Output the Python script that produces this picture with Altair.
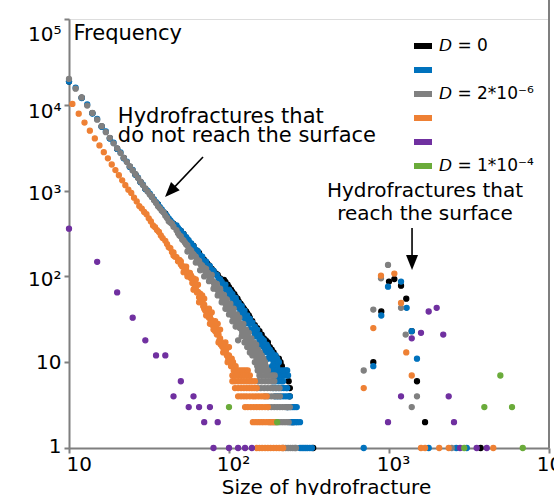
import altair as alt
import pandas as pd

# ---------------- data (size of hydrofracture, frequency) ----------------
series = ["D0", "blue", "D2e-6", "orange", "purple", "D1e-4"]
colors = ["#000000", "#0072BD", "#808080", "#EE8034", "#7030A0", "#6AAB3A"]

black_pts = [
    (10, 18700), (12, 12100), (14, 8000), (16, 5600), (18, 4080), (20, 3080), (22, 2400),
    (24, 1900), (26, 1540), (28, 1260), (30, 1050), (33, 850), (36, 690), (40, 540), (45, 410),
    (50, 338), (52, 312), (55, 270), (58, 240), (60, 226), (63, 200), (65, 188), (68, 168),
    (70, 156), (73, 142), (75, 134), (78, 122), (80, 116), (83, 108), (85, 104), (88, 95),
    (90, 90), (93, 91), (95, 86), (98, 80), (100, 75), (103, 70), (105, 66), (108, 62),
    (110, 58), (113, 55), (115, 51), (118, 48), (120, 46), (123, 43), (125, 41), (128, 39),
    (130, 37), (133, 35), (135, 33), (140, 30), (145, 27), (150, 25), (155, 23), (160, 21),
    (165, 19), (170, 18), (175, 17), (180, 15), (185, 14), (190, 13), (195, 12), (200, 11),
    (205, 11), (210, 10), (214, 9), (214, 8), (202, 7), (236, 6), (240, 5), (240, 4),
    (232, 3), (250, 2), (336, 1),
    (1000, 87), (1080, 93), (1189, 78), (1282, 55), (895, 39), (1387, 23), (798, 10),
    (1496, 6), (1680, 2), (3740, 1),
]

blue_pts = [
    (10, 18700), (11, 15800), (12, 12000), (13, 10100), (14, 7900), (15, 6850), (16, 5550),
    (17, 4900), (18, 4050), (19, 3620), (20, 3060), (21, 2780), (22, 2380), (23, 2180),
    (24, 1890), (25, 1745), (26, 1530), (27, 1420), (28, 1255), (29, 1172), (30, 1045),
    (31, 990), (32, 920), (33, 845), (34, 790), (35, 735), (36, 690), (37, 642), (38, 603),
    (39, 566), (40, 533), (41, 503), (42, 474), (43, 449), (44, 425), (45, 403),
    (47, 392), (48, 368), (49, 350), (50, 340), (51, 318), (52, 310), (53, 290), (54, 286),
    (55, 268), (56, 262), (57, 244), (58, 242), (59, 226), (60, 225), (62, 204), (64, 195),
    (66, 176), (68, 170), (70, 152), (72, 149), (74, 134), (76, 132), (78, 119), (80, 117),
    (82, 106), (84, 104), (86, 95), (88, 92), (90, 86), (92, 78), (94, 77), (96, 69),
    (98, 68), (100, 61), (103, 58), (106, 51), (109, 50), (112, 44), (115, 43), (118, 38),
    (121, 37), (124, 33), (127, 32), (130, 29), (134, 28), (138, 24), (142, 23), (146, 21),
    (150, 20), (155, 18), (160, 16), (165, 15), (170, 14), (175, 13), (180, 12), (185, 11),
    (190, 10), (95, 80), (102, 66), (111, 52), (120, 41), (133, 31), (145, 25), (158, 19),
    (172, 16), (183, 13), (195, 11),
    (100, 70), (105, 62), (110, 56), (115, 49), (120, 45), (125, 40), (130, 35), (135, 32),
    (140, 29), (145, 26), (150, 24), (155, 21), (160, 19), (165, 18), (170, 16), (175, 15),
    (180, 14), (185, 13), (190, 12), (195, 12), (200, 11), (205, 10),
    (105, 45), (115, 36), (125, 28), (135, 24), (145, 20), (155, 16), (165, 13), (175, 11),
    (186, 9), (194, 9), (200, 9),
    (178, 8), (186, 8), (194, 8), (202, 8), (210, 8), (218, 8), (226, 8), (231, 8),
    (194, 7), (202, 7), (210, 7), (218, 7), (226, 7), (234, 7),
    (188, 6), (196, 6), (204, 6), (212, 6), (218, 6),
    (188, 5), (196, 5), (204, 5), (212, 5), (220, 5), (228, 5), (231, 5),
    (194, 4), (202, 4), (210, 4), (218, 4), (226, 4), (234, 4), (240, 4),
    (229, 3), (236, 3), (244, 3), (251, 3), (258, 3), (265, 3),
    (240, 2), (247, 2), (254, 2), (261, 2), (268, 2), (278, 2),
    (278, 1), (286, 1), (294, 1), (302, 1), (310, 1), (320, 1), (330, 1),
    (1189, 87), (986, 76), (1289, 43), (895, 35), (1387, 23), (1496, 11), (798, 9),
    (695, 1), (1770, 1), (2634, 1), (3062, 1),
]

gray_pts = [
    (10, 20000), (11, 15400), (12, 12200), (13, 9800), (14, 8050), (15, 6700), (16, 5640),
    (17, 4800), (18, 4120), (19, 3560), (20, 3110), (21, 2740), (22, 2410), (23, 2150),
    (24, 1920), (25, 1720), (26, 1550), (27, 1400), (28, 1270), (29, 1160), (30, 1060),
    (31, 975), (32, 900), (33, 845), (34, 771), (35, 716), (36, 655), (37, 622), (38, 581),
    (39, 556), (40, 510), (41, 480), (42, 440), (43, 425), (44, 410), (45, 379),
    (47, 345), (48, 318), (49, 300), (50, 292), (51, 270), (52, 262), (53, 248), (54, 236),
    (55, 230), (56, 212), (57, 205), (58, 199), (59, 186), (60, 180), (61, 172), (62, 170),
    (63, 158), (64, 150), (65, 152), (66, 140), (67, 136), (68, 133), (69, 124), (70, 126),
    (71, 115), (72, 113), (73, 108), (74, 110), (75, 101), (76, 98), (77, 97), (78, 90),
    (79, 88), (80, 86), (81, 80), (82, 83), (83, 74), (84, 76), (85, 69), (86, 70), (87, 64),
    (88, 67), (89, 60), (90, 62), (91, 55), (92, 59), (93, 52), (94, 56), (95, 48), (96, 51),
    (97, 46), (98, 44), (99, 47), (100, 41), (102, 43), (103, 37), (104, 39), (105, 35),
    (106, 38), (107, 33), (108, 36), (110, 30), (111, 33), (112, 29), (113, 31), (115, 27),
    (116, 29), (117, 25), (118, 27), (120, 24), (121, 22), (122, 25), (124, 21), (125, 23),
    (127, 20), (128, 18), (130, 19), (131, 21), (133, 17), (134, 16), (136, 18), (137, 15),
    (139, 14), (140, 16), (142, 13), (144, 15), (145, 12), (147, 14), (149, 11), (150, 13),
    (152, 12), (154, 10), (155, 11), (157, 12), (159, 10), (163, 11), (165, 10),
    (55, 195), (58, 170), (62, 145), (66, 118), (70, 100), (72, 122), (75, 88), (78, 104),
    (80, 72), (84, 82), (85, 60), (88, 72), (90, 50), (93, 61), (95, 42), (97, 54),
    (100, 36), (102, 48), (105, 30), (107, 42), (110, 26), (112, 36), (114, 18), (116, 33),
    (120, 20), (123, 28), (125, 17), (128, 24), (130, 15), (133, 22), (135, 13), (138, 19),
    (140, 12), (143, 17), (145, 10), (148, 16), (152, 14), (156, 13), (160, 12), (164, 11),
    (168, 10),
    (150, 9), (157, 9), (163, 9), (170, 9),
    (151, 8), (158, 8), (164, 8), (170, 8), (175, 8),
    (155, 7), (163, 7), (171, 7), (178, 7), (186, 7), (193, 7),
    (152, 6), (160, 6), (168, 6), (176, 6), (184, 6), (192, 6),
    (150, 5), (158, 5), (166, 5), (174, 5), (182, 5), (190, 5), (198, 5), (207, 5),
    (168, 4), (176, 4), (184, 4), (192, 4), (200, 4), (208, 4),
    (176, 3), (184, 3), (192, 3), (200, 3), (208, 3), (216, 3), (224, 3), (232, 3), (240, 3),
    (180, 2), (188, 2), (196, 2), (204, 2), (212, 2), (220, 2), (228, 2), (236, 2),
    (218, 1), (226, 1), (234, 1), (242, 1), (250, 1), (258, 1), (262, 1),
    (986, 136), (891, 95), (1189, 43), (798, 41), (1271, 21), (695, 8), (1496, 4),
    (1387, 3), (2466, 1),
]

orange_pts = [
    (10.5, 10250), (11.5, 7890), (12.5, 6210), (13.5, 4990), (14.5, 4060), (15.5, 3360),
    (16.5, 2805), (17.5, 2375), (18.5, 2015), (19.5, 1735), (20.5, 1510), (21.5, 1318),
    (22.5, 1157), (23.5, 1025), (24.5, 940), (25.5, 826), (26.5, 747), (27.5, 660),
    (28.5, 618), (29.5, 564), (30.5, 530), (31.5, 475), (32.5, 437), (33.5, 392),
    (34.5, 374), (35.5, 347), (36.5, 330), (37.5, 300), (38.5, 280),
    (40, 260), (41, 238), (42, 218), (43, 214), (44, 192), (45, 190), (46, 170), (47, 168),
    (48, 150), (49, 156), (50, 138), (51, 130), (52, 131), (53, 118), (54, 119), (55, 106),
    (56, 108), (57, 98), (58, 95), (59, 84), (60, 85), (61, 74), (62, 73), (63, 65),
    (64, 66), (65, 57), (66, 58), (67, 51), (68, 52), (69, 45), (70, 47), (71, 40), (72, 42),
    (73, 36), (74, 38), (75, 33), (76, 34), (77, 30), (78, 31), (79, 27), (80, 28), (82, 23),
    (83, 25), (84, 21), (86, 21), (87, 18), (88, 19), (90, 17), (91, 15), (92, 16), (94, 14),
    (95, 13), (96, 14), (98, 12), (99, 11), (101, 11), (103, 10),
    (45, 175), (50, 150), (55, 100), (58, 102), (62, 80), (66, 63), (70, 42), (75, 36),
    (80, 24), (85, 23), (89, 16), (93, 16), (97, 12), (100, 12), (104, 11), (106, 10),
    (60, 70), (62, 92), (65, 50), (68, 60), (70, 55), (72, 35), (75, 42), (76, 28),
    (78, 38), (82, 30), (85, 28), (86, 17), (88, 24), (92, 13), (95, 17), (98, 10),
    (100, 15), (64, 80), (60, 95), (57, 110), (54, 130), (52, 112),
    (103, 9), (107, 9), (110, 9),
    (107, 8), (111, 8), (115, 8), (119, 8), (123, 8), (127, 8), (131, 8),
    (105, 7), (109, 7), (113, 7), (117, 7), (121, 7), (125, 7), (130, 7), (135, 7),
    (105, 6), (109, 6), (114, 6), (119, 6), (124, 6), (129, 6), (134, 6), (139, 6), (145, 6),
    (109, 5), (114, 5), (119, 5), (124, 5), (129, 5), (134, 5), (139, 5), (144, 5), (149, 5),
    (114, 4), (119, 4), (124, 4), (129, 4), (135, 4), (141, 4), (147, 4), (153, 4), (159, 4),
    (165, 4), (172, 4),
    (126, 3), (131, 3), (137, 3), (143, 3), (149, 3), (155, 3), (161, 3), (168, 3), (175, 3),
    (141, 2), (147, 2), (153, 2), (159, 2), (165, 2), (172, 2), (179, 2), (186, 2), (194, 2),
    (149, 1), (155, 1), (161, 1), (168, 1), (175, 1), (182, 1), (190, 1), (198, 1), (206, 1),
    (214, 1), (218, 1),
    (891, 102), (1080, 108), (1189, 49), (798, 25), (1282, 13), (1387, 7), (695, 5),
    (1585, 1), (1680, 1), (2060, 1), (2361, 1), (4487, 1),
]

purple_pts = [
    (10, 360), (15, 148), (20, 65), (25, 33), (30, 18), (35, 12), (40, 12), (50, 6),
    (45, 4), (60, 4), (56, 3), (65, 3), (76, 3), (70, 2), (85, 2), (80, 1), (100, 1),
    (114, 1), (126, 1), (139, 1),
    (1770, 39), (1986, 43), (1585, 22), (2183, 21), (1387, 19), (1189, 4), (2361, 4),
    (986, 2), (2548, 2), (2780, 1), (3532, 1), (4083, 1),
]

green_pts = [
    (100, 3), (200, 2), (3944, 3), (5873, 3), (4966, 7), (2953, 1), (6855, 1),
]

legend_labels = ["𝘋 = 0", "", "𝘋 = 2*10⁻⁶", "", "", "𝘋 = 1*10⁻⁴"]

# annotations (data coordinates)
note_text = ["Hydrofractures that", "do not reach the surface",
             "Hydrofractures that", "reach the surface"]
note_x = [20.2, 20.2, 1679, 1679]
note_y = [7300, 4300, 980, 540]

arrow_x = [68.8, 1393]
arrow_y = [2465, 367]
arrow_x2 = [42.9, 1393]
arrow_y2 = [973, 145]
arrow_angle = [43.5, 0]

# ---------------- build table ----------------
rows = []
for name, pts in zip(series, [black_pts, blue_pts, gray_pts, orange_pts, purple_pts, green_pts]):
    for s, f in pts:
        rows.append({"size": s, "freq": f, "series": name})
df = pd.DataFrame(rows)

notes = pd.DataFrame({"text": note_text, "x": note_x, "y": note_y})
arrows = pd.DataFrame({"x": arrow_x, "y": arrow_y, "x2": arrow_x2, "y2": arrow_y2,
                       "angle": arrow_angle})

FONT = "DejaVu Sans"

label_expr = ("datum.label == 'D0' ? '" + legend_labels[0] + "' : "
              "datum.label == 'D2e-6' ? '" + legend_labels[2] + "' : "
              "datum.label == 'D1e-4' ? '" + legend_labels[5] + "' : ''")

xscale = alt.Scale(type="log", domain=[10, 10000], nice=False)
yscale = alt.Scale(type="log", domain=[1, 100000], nice=False)
cscale = alt.Scale(domain=series, range=colors)

x_axis = alt.Axis(
    values=[10, 100, 1000, 10000],
    labelExpr="datum.value == 10 ? '10' : datum.value == 100 ? '10²' : datum.value == 1000 ? '10³' : '10⁴'",
    title="Size of hydrofracture", titleFont=FONT, titleFontSize=20, titleFontWeight="normal",
    titleColor="black", titleX=257, titleY=45, titleAlign="center", titleBaseline="alphabetic",
    labelFont=FONT, labelFontSize=20, labelColor="black", labelPadding=1,
    labelAlign={"condition": {"test": "datum.value == 10", "value": "left"}, "value": "center"},
    labelOffset={"condition": {"test": "datum.value == 10", "value": -3}, "value": 4},
    domainColor="#7f7f7f", domainWidth=2, tickColor="#7f7f7f", tickWidth=2, tickSize=5,
    grid=False, labelFlush=False, labelOverlap=False,
)
y_axis = alt.Axis(
    values=[1, 10, 100, 1000, 10000, 100000],
    labelExpr="datum.value == 1 ? '1' : datum.value == 10 ? '10' : datum.value == 100 ? '10²' : datum.value == 1000 ? '10³' : datum.value == 10000 ? '10⁴' : '10⁵'",
    title="Frequency", titleFont=FONT, titleFontSize=21, titleFontWeight="normal",
    titleColor="black", titleAngle=0, titleX=4, titleY=14, titleAlign="left",
    titleBaseline="middle",
    labelFont=FONT, labelFontSize=20, labelColor="black", labelPadding=3,
    labelOffset={"condition": [
        {"test": "datum.value == 100000", "value": 15},
        {"test": "datum.value == 10000", "value": 7},
        {"test": "datum.value >= 100", "value": 3},
        {"test": "datum.value == 1", "value": -2},
    ], "value": 0},
    domainColor="#7f7f7f", domainWidth=2, tickColor="#7f7f7f", tickWidth=2, tickSize=5,
    grid=False, labelFlush=False, labelOverlap=False,
)

points = alt.Chart(df).mark_point(
    filled=False, shape="circle", size=26, strokeWidth=1.2, opacity=1
).encode(
    x=alt.X("size:Q", scale=xscale, axis=x_axis),
    y=alt.Y("freq:Q", scale=yscale, axis=y_axis),
    color=alt.Color(
        "series:N", scale=cscale,
        legend=alt.Legend(
            title=None, orient="none", legendX=342, legendY=15, padding=0,
            symbolType="stroke", symbolSize=324, symbolStrokeWidth=6,
            labelFont=FONT, labelFontSize=17, labelColor="black", labelOffset=4,
            rowPadding=0, labelExpr=label_expr,
        ),
    ),
    fill=alt.Fill("series:N", scale=cscale, legend=None),
)

text_left = alt.Chart(notes.iloc[:2]).mark_text(
    font=FONT, fontSize=21, baseline="middle", align="left", color="black"
).encode(x=alt.X("x:Q", scale=xscale), y=alt.Y("y:Q", scale=yscale), text="text:N")

text_center = alt.Chart(notes.iloc[2:]).mark_text(
    font=FONT, fontSize=20, baseline="middle", align="center", color="black"
).encode(x=alt.X("x:Q", scale=xscale), y=alt.Y("y:Q", scale=yscale), text="text:N")

shafts = alt.Chart(arrows).mark_rule(color="black", strokeWidth=1.6).encode(
    x=alt.X("x:Q", scale=xscale), y=alt.Y("y:Q", scale=yscale),
    x2="x2:Q", y2="y2:Q",
)

heads = alt.Chart(arrows).mark_point(
    shape="M0,1L-0.8,-1L0.8,-1Z", filled=True, color="black", size=225, opacity=1,
    strokeWidth=0,
).encode(
    x=alt.X("x2:Q", scale=xscale), y=alt.Y("y2:Q", scale=yscale),
    angle=alt.Angle("angle:Q", scale=None),
)

right_spine = alt.Chart(pd.DataFrame({"v": [0]})).mark_rule(
    color="#7f7f7f", strokeWidth=2
).encode(x=alt.value(480), y=alt.value(-19), y2=alt.value(429))

chart = alt.layer(points, shafts, heads, text_left, text_center, right_spine).properties(
    width=480, height=429,
    autosize=alt.AutoSizeParams(type="none"),
    padding={"left": 69, "top": 19, "right": 5, "bottom": 47},
).configure_view(stroke=None).configure(background="white")

chart.save("out.html", embed_options={"renderer": "svg", "actions": False})
